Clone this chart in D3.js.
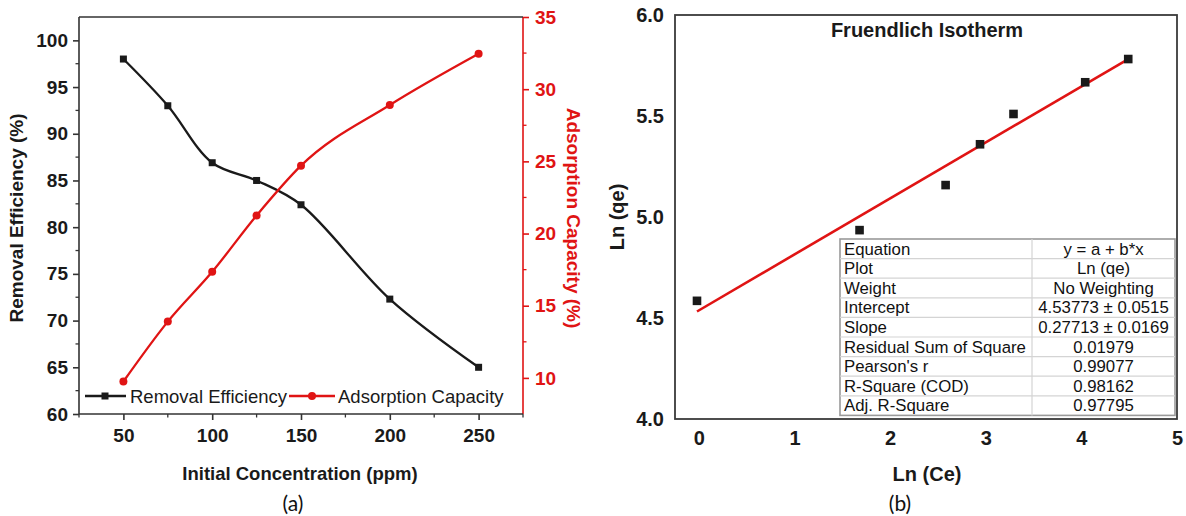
<!DOCTYPE html>
<html>
<head>
<meta charset="utf-8">
<script src="https://cdn.jsdelivr.net/npm/d3@7"></script>
<style>
  body { margin: 0; background: #fff; }
  svg { display: block; font-family: "Liberation Sans", Arial, sans-serif; }
</style>
</head>
<body>
<svg id="chart" width="1186" height="516"></svg>
<script>
'use strict';

// panel (a)
const concentration = [50, 75, 100, 125, 150, 200, 250];
const removalEfficiency = [98.0, 93.0, 86.9, 85.0, 82.4, 72.3, 65.0];
const adsorptionCapacity = [9.75, 13.9, 17.35, 21.25, 24.7, 28.9, 32.45];
const aLeftTicks = [60, 65, 70, 75, 80, 85, 90, 95, 100];
const aRightTicks = [10, 15, 20, 25, 30, 35];
const aXTicks = [50, 100, 150, 200, 250];

// panel (b)
const lnCe = [-0.02, 1.68, 2.58, 2.94, 3.29, 4.04, 4.49];
const lnQe = [4.585, 4.935, 5.158, 5.36, 5.51, 5.667, 5.782];
const fitIntercept = 4.53773;
const fitSlope = 0.27713;
const bXTicks = [0, 1, 2, 3, 4, 5];
const bYTicks = [4.0, 4.5, 5.0, 5.5, 6.0];
const tableLabels = ["Equation", "Plot", "Weight", "Intercept", "Slope",
    "Residual Sum of Square", "Pearson's r", "R-Square (COD)", "Adj. R-Square"];
const tableValues = ["y = a + b*x", "Ln (qe)", "No Weighting", "4.53773 \u00b1 0.0515",
    "0.27713 \u00b1 0.0169", "0.01979", "0.99077", "0.98162", "0.97795"];

const RED = "#e01414";
const INK = "#1a1a1a";
const svg = d3.select("#chart");

// ---------- panel (a) ----------
const a = { left: 79, right: 523, top: 17, bottom: 414 };
const xA = d3.scaleLinear().domain([25, 275]).range([a.left, a.right]);
const yL = d3.scaleLinear().domain([60, 102.5]).range([a.bottom, a.top]);
const yR = d3.scaleLinear().domain([7.5, 35]).range([a.bottom, a.top]);

const gA = svg.append("g");

// minor ticks
const minorL = d3.range(62.5, 102.5, 5);
const minorR = d3.range(12.5, 35, 5);
const minorX = d3.range(25, 276, 50);

gA.selectAll("line.mnl").data(minorL).join("line")
    .attr("x1", a.left - 3.5).attr("x2", a.left)
    .attr("y1", d => yL(d)).attr("y2", d => yL(d))
    .attr("stroke", "#333").attr("stroke-width", 1.3);
gA.selectAll("line.mnr").data(minorR).join("line")
    .attr("x1", a.right).attr("x2", a.right + 3.5)
    .attr("y1", d => yR(d)).attr("y2", d => yR(d))
    .attr("stroke", RED).attr("stroke-width", 1.3);
gA.selectAll("line.mnx").data(minorX).join("line")
    .attr("x1", d => xA(d)).attr("x2", d => xA(d))
    .attr("y1", a.bottom).attr("y2", a.bottom + 3.5)
    .attr("stroke", "#333").attr("stroke-width", 1.3);

const axL = gA.append("g").attr("transform", `translate(${a.left},0)`)
    .call(d3.axisLeft(yL).tickValues(aLeftTicks).tickSize(6).tickPadding(5).tickSizeOuter(0));
const axR = gA.append("g").attr("transform", `translate(${a.right},0)`)
    .call(d3.axisRight(yR).tickValues(aRightTicks).tickSize(6).tickPadding(6).tickSizeOuter(0));
const axX = gA.append("g").attr("transform", `translate(0,${a.bottom})`)
    .call(d3.axisBottom(xA).tickValues(aXTicks).tickSize(6).tickPadding(9).tickSizeOuter(0));

[axL, axX].forEach(ax => {
    ax.selectAll("path, line").attr("stroke", "#333").attr("stroke-width", 1.6);
    ax.selectAll("text").attr("fill", INK);
});
axR.selectAll("path, line").attr("stroke", RED).attr("stroke-width", 1.6);
axR.selectAll("text").attr("fill", RED);
[axL, axR, axX].forEach(ax => {
    ax.attr("font-family", null).attr("font-size", 19)
        .selectAll("text").attr("font-weight", "bold");
});
axR.select(".domain").attr("d", `M0,${a.bottom}V${a.top}`);
axL.select(".domain").attr("d", `M0,${a.bottom}V${a.top}`);
axX.select(".domain").attr("d", `M${a.left},0H${a.right}`);

// top frame line
gA.append("line")
    .attr("x1", a.left).attr("x2", a.right).attr("y1", a.top).attr("y2", a.top)
    .attr("stroke", "#333").attr("stroke-width", 1.6);

// series
const dataA = concentration.map((c, i) => ({ c, re: removalEfficiency[i], ac: adsorptionCapacity[i] }));

gA.append("path").datum(dataA)
    .attr("fill", "none").attr("stroke", INK).attr("stroke-width", 2.3)
    .attr("d", d3.line().x(d => xA(d.c)).y(d => yL(d.re)).curve(d3.curveCatmullRom.alpha(0.5)));
gA.append("path").datum(dataA)
    .attr("fill", "none").attr("stroke", RED).attr("stroke-width", 2.3)
    .attr("d", d3.line().x(d => xA(d.c)).y(d => yR(d.ac)).curve(d3.curveMonotoneX));

gA.selectAll("rect.re").data(dataA).join("rect")
    .attr("x", d => xA(d.c) - 3.5).attr("y", d => yL(d.re) - 3.5)
    .attr("width", 7).attr("height", 7).attr("fill", INK);
gA.selectAll("circle.ac").data(dataA).join("circle")
    .attr("cx", d => xA(d.c)).attr("cy", d => yR(d.ac)).attr("r", 4).attr("fill", RED);

// legend
const legY = 396;
const leg = gA.append("g");
leg.append("line").attr("x1", 85).attr("x2", 126).attr("y1", legY).attr("y2", legY)
    .attr("stroke", INK).attr("stroke-width", 2.3);
leg.append("rect").attr("x", 101.5).attr("y", legY - 3.5).attr("width", 7).attr("height", 7).attr("fill", INK);
leg.append("text").attr("x", 130).attr("y", legY + 7).attr("font-size", 18.5).attr("fill", INK)
    .text("Removal Efficiency");
leg.append("line").attr("x1", 289).attr("x2", 335).attr("y1", legY).attr("y2", legY)
    .attr("stroke", RED).attr("stroke-width", 2.3);
leg.append("circle").attr("cx", 312).attr("cy", legY).attr("r", 4).attr("fill", RED);
leg.append("text").attr("x", 338).attr("y", legY + 7).attr("font-size", 18.5).attr("fill", INK)
    .text("Adsorption Capacity");

// axis titles
gA.append("text").attr("transform", `translate(23,218) rotate(-90)`)
    .attr("text-anchor", "middle").attr("font-size", 19).attr("font-weight", "bold").attr("fill", INK)
    .text("Removal Efficiency (%)");
gA.append("text").attr("transform", `translate(567,218) rotate(90)`)
    .attr("text-anchor", "middle").attr("font-size", 19).attr("font-weight", "bold").attr("fill", RED)
    .text("Adsorption Capacity (%)");
gA.append("text").attr("x", 300).attr("y", 480)
    .attr("text-anchor", "middle").attr("font-size", 18.5).attr("font-weight", "bold").attr("fill", INK)
    .text("Initial Concentration (ppm)");

// ---------- panel (b) ----------
const b = { left: 675, right: 1177, top: 15, bottom: 419 };
const xB = d3.scaleLinear().domain([-0.25, 5]).range([b.left, b.right]);
const yB = d3.scaleLinear().domain([4, 6]).range([b.bottom, b.top]);

const gB = svg.append("g");

gB.append("rect").attr("x", b.left).attr("y", b.top)
    .attr("width", b.right - b.left).attr("height", b.bottom - b.top)
    .attr("fill", "none").attr("stroke", "#3a3a3a").attr("stroke-width", 1.8);

const bxAx = gB.append("g").attr("transform", `translate(0,${b.bottom})`)
    .call(d3.axisBottom(xB).tickValues(bXTicks).tickSize(0).tickPadding(12).tickFormat(d3.format("d")));
const byAx = gB.append("g").attr("transform", `translate(${b.left},0)`)
    .call(d3.axisLeft(yB).tickValues(bYTicks).tickSize(0).tickPadding(11).tickFormat(d3.format(".1f")));
[bxAx, byAx].forEach(ax => {
    ax.select(".domain").remove();
    ax.attr("font-family", null).attr("font-size", 20);
    ax.selectAll("text").attr("font-weight", "bold").attr("fill", INK);
});

gB.append("text").attr("x", 927).attr("y", 37).attr("text-anchor", "middle")
    .attr("font-size", 20).attr("font-weight", "bold").attr("fill", INK)
    .text("Fruendlich Isotherm");

// fit line
const xFit = d3.extent(lnCe);
gB.append("line")
    .attr("x1", xB(xFit[0])).attr("y1", yB(fitIntercept + fitSlope * xFit[0]))
    .attr("x2", xB(xFit[1])).attr("y2", yB(fitIntercept + fitSlope * xFit[1]))
    .attr("stroke", RED).attr("stroke-width", 2.6);

const dataB = lnCe.map((x, i) => ({ x, y: lnQe[i] }));
gB.selectAll("rect.pt").data(dataB).join("rect")
    .attr("x", d => xB(d.x) - 4.3).attr("y", d => yB(d.y) - 4.3)
    .attr("width", 8.6).attr("height", 8.6).attr("fill", INK);

// stats table
const tbl = { x: 840, y: 239, w: 335, rowH: 19.6, split: 1032 };
const tg = gB.append("g");
tg.append("rect").attr("x", tbl.x).attr("y", tbl.y)
    .attr("width", tbl.w).attr("height", tbl.rowH * tableLabels.length)
    .attr("fill", "#fff").attr("stroke", "#9a9a9a").attr("stroke-width", 1.6);
tg.selectAll("line.row").data(d3.range(1, tableLabels.length)).join("line")
    .attr("x1", tbl.x).attr("x2", tbl.x + tbl.w)
    .attr("y1", i => tbl.y + i * tbl.rowH).attr("y2", i => tbl.y + i * tbl.rowH)
    .attr("stroke", "#d4d4d4").attr("stroke-width", 1.2);
tg.append("line").attr("x1", tbl.split).attr("x2", tbl.split)
    .attr("y1", tbl.y).attr("y2", tbl.y + tbl.rowH * tableLabels.length)
    .attr("stroke", "#d4d4d4").attr("stroke-width", 1.2);
tg.selectAll("text.lab").data(tableLabels).join("text")
    .attr("x", tbl.x + 4).attr("y", (d, i) => tbl.y + i * tbl.rowH + 15.5)
    .attr("font-size", 16.8).attr("fill", "#111").text(d => d);
tg.selectAll("text.val").data(tableValues).join("text")
    .attr("x", (tbl.split + tbl.x + tbl.w) / 2).attr("y", (d, i) => tbl.y + i * tbl.rowH + 15.5)
    .attr("text-anchor", "middle").attr("font-size", 16.8).attr("fill", "#111").text(d => d);

gB.append("text").attr("transform", `translate(624,217) rotate(-90)`)
    .attr("text-anchor", "middle").attr("font-size", 20).attr("font-weight", "bold").attr("fill", INK)
    .text("Ln (qe)");
gB.append("text").attr("x", 927).attr("y", 481).attr("text-anchor", "middle")
    .attr("font-size", 20).attr("font-weight", "bold").attr("fill", INK)
    .text("Ln (Ce)");

// panel captions
svg.append("text").attr("x", 293).attr("y", 511).attr("text-anchor", "middle")
    .attr("font-family", "Lato, 'Open Sans', sans-serif").attr("font-size", 21).attr("fill", "#111")
    .text("(a)");
svg.append("text").attr("x", 900).attr("y", 511).attr("text-anchor", "middle")
    .attr("font-family", "Lato, 'Open Sans', sans-serif").attr("font-size", 21).attr("fill", "#111")
    .text("(b)");
</script>
</body>
</html>
